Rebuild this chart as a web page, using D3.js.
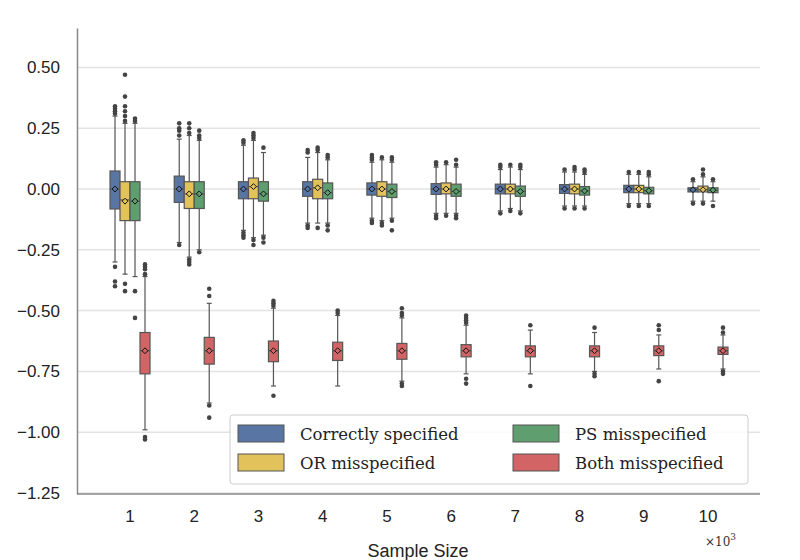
<!DOCTYPE html><html><head><meta charset="utf-8"><script src="https://cdn.jsdelivr.net/npm/d3@7"></script>
<style>body{margin:0;background:#fff}</style></head><body><svg id="c" width="800" height="560"></svg><script>
const sizes=["1","2","3","4","5","6","7","8","9","10"];
const seriesNames=["Correctly specified","OR misspecified","PS misspecified","Both misspecified"];
const colors=["#5975a4","#e2c25a","#5f9e6e","#d26466"];
const yTicks=[0.5,0.25,0,-0.25,-0.5,-0.75,-1.0,-1.25];
// [lo, q1, median, q3, hi, mean]
const correct=[[-0.30,-0.082,0,0.074,0.30,0],[-0.22,-0.055,0,0.053,0.205,0],[-0.17,-0.04,0,0.03,0.18,0],[-0.14,-0.03,0,0.03,0.13,0],[-0.12,-0.025,0,0.025,0.11,0],[-0.10,-0.022,0,0.022,0.09,0],[-0.09,-0.02,0,0.02,0.08,0],[-0.07,-0.018,0,0.018,0.07,0],[-0.06,-0.015,0,0.015,0.06,0],[-0.05,-0.012,0,0.005,0.03,-0.003]];
const orMis=[[-0.35,-0.13,-0.045,0.03,0.27,-0.05],[-0.28,-0.08,-0.02,0.03,0.22,-0.02],[-0.20,-0.04,0.01,0.045,0.20,0.01],[-0.14,-0.04,0.005,0.04,0.15,0.005],[-0.13,-0.03,0,0.03,0.12,0],[-0.10,-0.02,0,0.025,0.10,0],[-0.08,-0.02,0,0.02,0.09,0],[-0.07,-0.02,0,0.02,0.07,0],[-0.06,-0.015,0,0.015,0.06,0],[-0.05,-0.012,-0.003,0.012,0.05,-0.003]];
const psMis=[[-0.36,-0.13,-0.05,0.03,0.27,-0.05],[-0.25,-0.08,-0.02,0.03,0.20,-0.02],[-0.19,-0.05,-0.02,0.03,0.15,-0.02],[-0.14,-0.04,-0.015,0.025,0.12,-0.015],[-0.12,-0.035,-0.01,0.02,0.11,-0.01],[-0.10,-0.03,-0.01,0.02,0.09,-0.01],[-0.09,-0.03,-0.01,0.012,0.08,-0.01],[-0.07,-0.025,-0.008,0.01,0.06,-0.008],[-0.06,-0.02,-0.007,0.007,0.05,-0.007],[-0.05,-0.015,-0.005,0.005,0.03,-0.005]];
const bothMis=[[-0.99,-0.76,-0.665,-0.59,-0.36,-0.665],[-0.88,-0.72,-0.665,-0.61,-0.47,-0.665],[-0.81,-0.71,-0.665,-0.625,-0.49,-0.665],[-0.81,-0.705,-0.665,-0.63,-0.52,-0.665],[-0.79,-0.70,-0.665,-0.635,-0.53,-0.665],[-0.76,-0.69,-0.665,-0.64,-0.56,-0.665],[-0.76,-0.69,-0.665,-0.645,-0.58,-0.665],[-0.75,-0.69,-0.665,-0.645,-0.59,-0.665],[-0.74,-0.685,-0.665,-0.645,-0.60,-0.665],[-0.74,-0.68,-0.665,-0.65,-0.60,-0.665]];
const correctOut=[[0.31,0.32,0.33,0.34,-0.32,-0.38,-0.40],[0.22,0.24,0.25,0.27,-0.23],[0.19,0.20,-0.18,-0.19,-0.20],[0.15,0.16,-0.15,-0.16],[0.12,0.13,0.14,-0.13,-0.14],[0.10,0.11,-0.11,-0.12],[0.09,0.1,-0.1],[0.08,-0.08],[0.07,-0.07],[0.04,-0.06]];
const orOut=[[0.28,0.30,0.32,0.34,0.38,0.47,-0.39,-0.42],[0.23,0.25,0.27,-0.29,-0.30,-0.31],[0.21,0.22,0.23,-0.21,-0.23],[0.16,0.17,-0.16],[0.13,-0.14,-0.15],[0.11,-0.11],[0.1,-0.09],[0.08,0.09,-0.08],[0.07,-0.07],[0.06,0.08,-0.06]];
const psOut=[[0.28,0.29,-0.42,-0.53],[0.21,0.22,0.24,-0.26],[0.17,-0.20,-0.22],[0.13,0.14,-0.15,-0.17],[0.12,0.13,-0.13,-0.17],[0.10,0.12,-0.11,-0.12],[0.09,0.1,-0.1],[0.07,0.08,-0.08],[0.06,0.07,-0.07],[0.04,-0.07]];
const bothOut=[[-0.31,-0.32,-0.33,-0.35,-1.02,-1.03],[-0.41,-0.44,-0.89,-0.94],[-0.46,-0.47,-0.48,-0.85],[-0.50,-0.51],[-0.49,-0.51,-0.52,-0.80,-0.81],[-0.52,-0.53,-0.54,-0.55,-0.78,-0.80],[-0.56,-0.81],[-0.57,-0.76,-0.77],[-0.56,-0.58,-0.79],[-0.57,-0.59,-0.75,-0.76]];
const stats=[correct,orMis,psMis,bothMis], outs=[correctOut,orOut,psOut,bothOut];

const svg=d3.select("#c");
const y=d3.scaleLinear().domain([-1.254,0.662]).range([494,28]);
const x=d3.scaleBand().domain(sizes).range([97.9,740.1]);
const inner=d3.scaleBand().domain(d3.range(4)).range([-20,20]);
svg.append("g").selectAll("line").data(yTicks).join("line").attr("x1",77).attr("x2",760).attr("y1",d=>y(d)).attr("y2",d=>y(d)).attr("stroke","#e3e3e3").attr("stroke-width",1.5);
const ya=svg.append("g").attr("transform","translate(77,0)").call(d3.axisLeft(y).tickValues(yTicks).tickFormat(d=>d3.format(".2f")(d).replace("-","−")).tickSize(0).tickPadding(17));
ya.select(".domain").attr("stroke","#888").attr("stroke-width",1.5);
ya.selectAll("text").attr("font-family","Liberation Sans").attr("font-size",17).attr("fill","#222");
const xa=svg.append("g").attr("transform","translate(0,494)").call(d3.axisBottom(x).tickSize(0).tickPadding(16));
xa.select(".domain").attr("d","M77,0H760").attr("stroke","#888").attr("stroke-width",1.5);
xa.selectAll("text").attr("font-family","Liberation Sans").attr("font-size",17).attr("fill","#222");
svg.append("text").attr("x",418).attr("y",557).attr("text-anchor","middle").attr("font-family","Liberation Sans").attr("font-size",18).attr("fill","#222").text("Sample Size");
svg.append("text").attr("x",705).attr("y",546).attr("font-family","DejaVu Serif").attr("font-size",12).attr("fill","#333").html("×10<tspan dy='-6' font-size='9'>3</tspan>");
const g=svg.append("g");
stats.forEach((ser,s)=>{
 ser.forEach((d,i)=>{
  const cx=x(sizes[i])+x.bandwidth()/2+inner(s)+inner.bandwidth()/2, w=inner.bandwidth();
  const [lo,q1,md,q3,hi,mn]=d;
  g.append("line").attr("x1",cx).attr("x2",cx).attr("y1",y(hi)).attr("y2",y(lo)).attr("stroke","#555").attr("stroke-width",1.2);
  [lo,hi].forEach(v=>g.append("line").attr("x1",cx-w/4).attr("x2",cx+w/4).attr("y1",y(v)).attr("y2",y(v)).attr("stroke","#555").attr("stroke-width",1.2));
  g.append("rect").attr("x",cx-w/2).attr("width",w).attr("y",y(q3)).attr("height",y(q1)-y(q3)).attr("fill",colors[s]).attr("stroke","#555").attr("stroke-width",1.2);
  g.append("line").attr("x1",cx-w/2).attr("x2",cx+w/2).attr("y1",y(md)).attr("y2",y(md)).attr("stroke","#555").attr("stroke-width",1.2);
  g.append("path").attr("d",d3.symbol(d3.symbolDiamond2,22)()).attr("transform",`translate(${cx},${y(mn)})`).attr("fill",colors[s]).attr("stroke","#111").attr("stroke-width",1);
  outs[s][i].forEach(v=>g.append("circle").attr("cx",cx).attr("cy",y(v)).attr("r",2.3).attr("fill","#444"));
 });
});
const lg=svg.append("g");
lg.append("rect").attr("x",230).attr("y",415).attr("width",518).attr("height",69).attr("rx",3).attr("fill","#fff").attr("fill-opacity",0.85).attr("stroke","#ccc");
seriesNames.forEach((n,k)=>{
 const col=k===0||k===1?0:1, row=(k===0||k===2)?0:1;
 const lx=col?513:238, ly=425+row*29;
 lg.append("rect").attr("x",lx).attr("y",ly).attr("width",46).attr("height",17).attr("fill",colors[k]).attr("stroke","#555");
 lg.append("text").attr("x",lx+62).attr("y",ly+15).attr("font-family","DejaVu Serif").attr("font-size",16.5).attr("fill","#222").text(n);
});
</script></body></html>
